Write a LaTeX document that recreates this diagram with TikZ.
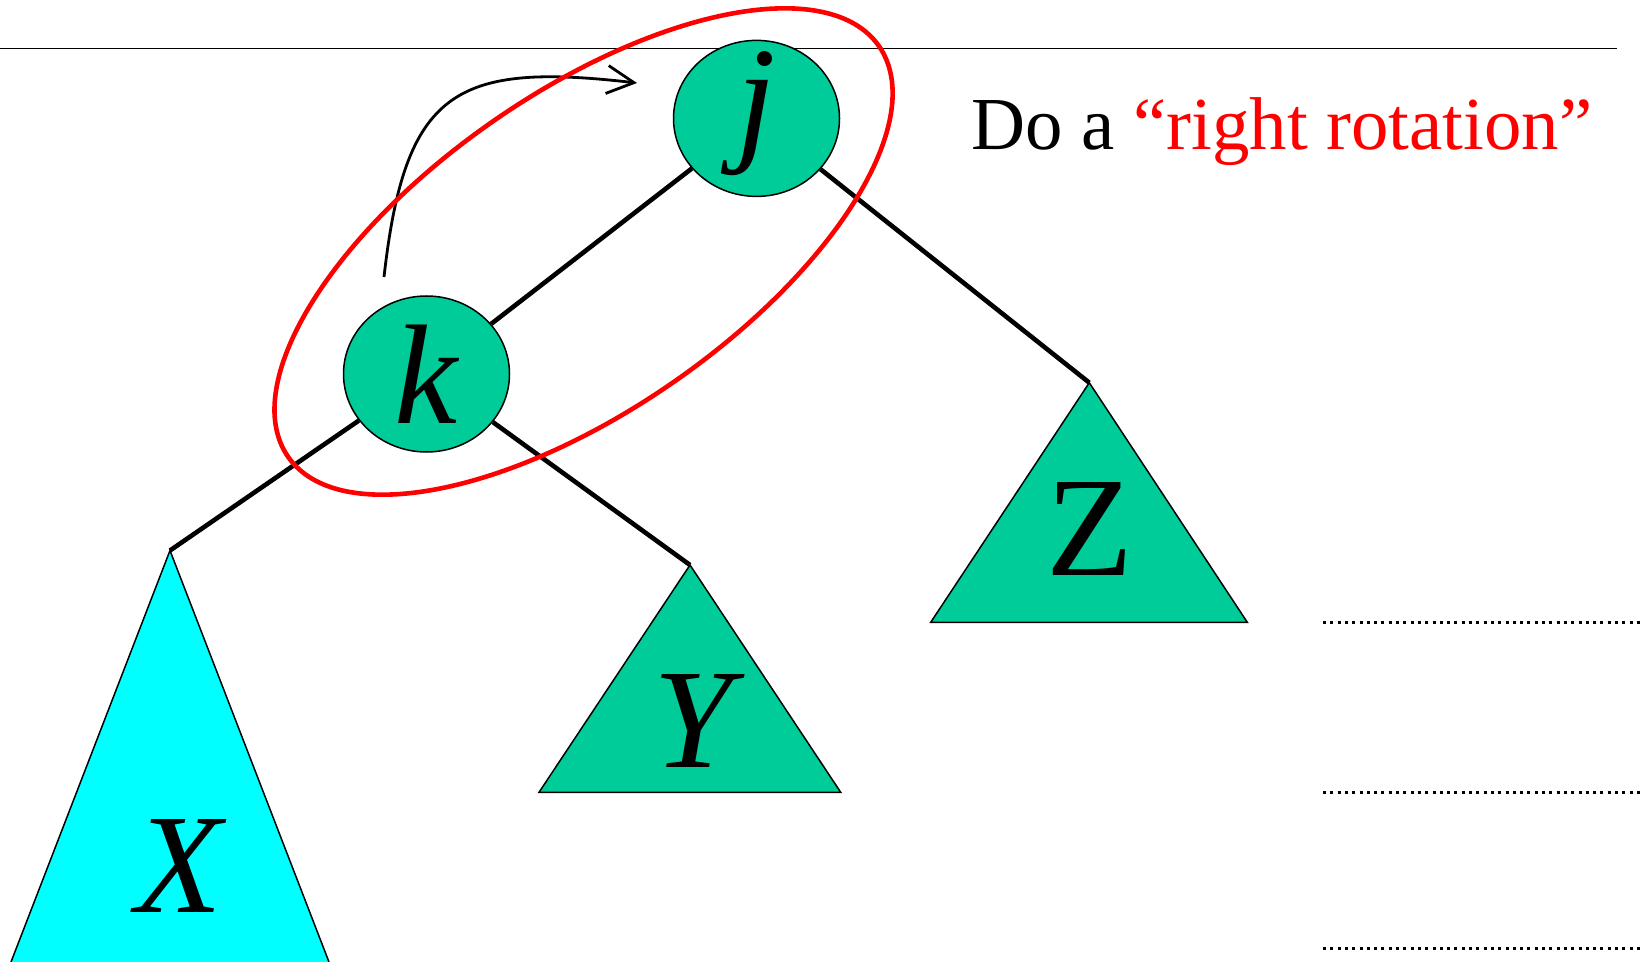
\documentclass[tikz,border=0pt]{standalone}
\usepackage{fontspec}
\setmainfont{Liberation Serif}
\usetikzlibrary{shapes.geometric,arrows.meta}
\definecolor{nodegreen}{RGB}{0,204,153}
\definecolor{treecyan}{RGB}{0,255,255}
\begin{document}
\begin{tikzpicture}[x=0.5pt,y=-0.5pt,
  treenode/.style={draw=black,line width=0.75pt,fill=nodegreen,ellipse,
    minimum width=83pt,minimum height=78pt,inner sep=0pt,
    font=\fontsize{71}{80}\selectfont\itshape},
  subtree/.style={draw=black,line width=0.75pt,line join=miter},
  treelabel/.style={inner sep=0pt,font=\fontsize{71}{80}\selectfont},
  edge/.style={line width=2.3pt},
  rotloop/.style={draw=red,line width=2.3pt},
  rotarrow/.style={line width=1.4pt,-{Straight Barb[length=13.5pt,width=14pt,line width=1.4pt]}},
  levelline/.style={line width=1.5pt,dash pattern=on 1.5pt off 2.15pt},
  topline/.style={line width=0.8pt}]
\useasboundingbox (0,0) rectangle (1643,962);

% subtrees
\coordinate (xa) at (170,550.5);
\coordinate (xl) at (11,962);
\coordinate (xr) at (329,962);
\coordinate (ya) at (690,565);
\coordinate (yl) at (539,792.3);
\coordinate (yr) at (840.7,792.3);
\coordinate (za) at (1089.3,382.7);
\coordinate (zl) at (930.7,622.3);
\coordinate (zr) at (1247.3,622.3);
\fill[treecyan] (xa) -- (xr) -- (xl) -- cycle;
\draw[subtree] (xl) -- (xa) -- (xr);
\draw[subtree,fill=nodegreen] (ya) -- (yr) -- (yl) -- cycle;
\draw[subtree,fill=nodegreen] (za) -- (zr) -- (zl) -- cycle;
\node[treelabel,font=\fontsize{71}{80}\selectfont\itshape] (xlab) at (179,866) {X};
\node[treelabel,font=\fontsize{71}{80}\selectfont\itshape] (ylab) at (693,721) {Y};
\node[treelabel] (zlab) at (1089.7,528.7) {Z};

% top line
\coordinate (tl1) at (0,48.5);
\coordinate (tl2) at (1617,48.5);
\draw[topline] (tl1) -- (tl2);

% tree nodes
\node[treenode] (j) at (756.5,118.4) {\raisebox{-13.5pt}[0pt][0pt]{j}};
\node[treenode] (k) at (426.5,374) {k};

% edges
\draw[edge] (j) -- (k);
\draw[edge] (j) -- (za);
\draw[edge] (k) -- (xa);
\draw[edge] (k) -- (ya);

% rotation arrow
\coordinate (as) at (384,277);
\coordinate (ae) at (637,83);
\draw[rotarrow] (as) .. controls (405,90) and (455,62) .. (ae);

% red loop
\coordinate (rc) at (583.6,251.5);
\draw[rotloop,rotate around={34.8:(rc)}] (rc) ellipse [x radius=179.9pt,y radius=79.3pt];

% caption
\node[anchor=base west,inner sep=0pt,font=\fontsize{37.4}{44}\selectfont] (cap) at (971,149.8)
  {Do a \textcolor{red}{“right rotation”}};

% dotted level lines
\coordinate (d1s) at (1323,622.5); \coordinate (d1e) at (1643,622.5);
\coordinate (d2s) at (1323,792.3); \coordinate (d2e) at (1643,792.3);
\coordinate (d3s) at (1323,948); \coordinate (d3e) at (1643,948);
\draw[levelline] (d1s) -- (d1e);
\draw[levelline] (d2s) -- (d2e);
\draw[levelline] (d3s) -- (d3e);
\end{tikzpicture}
\end{document}
